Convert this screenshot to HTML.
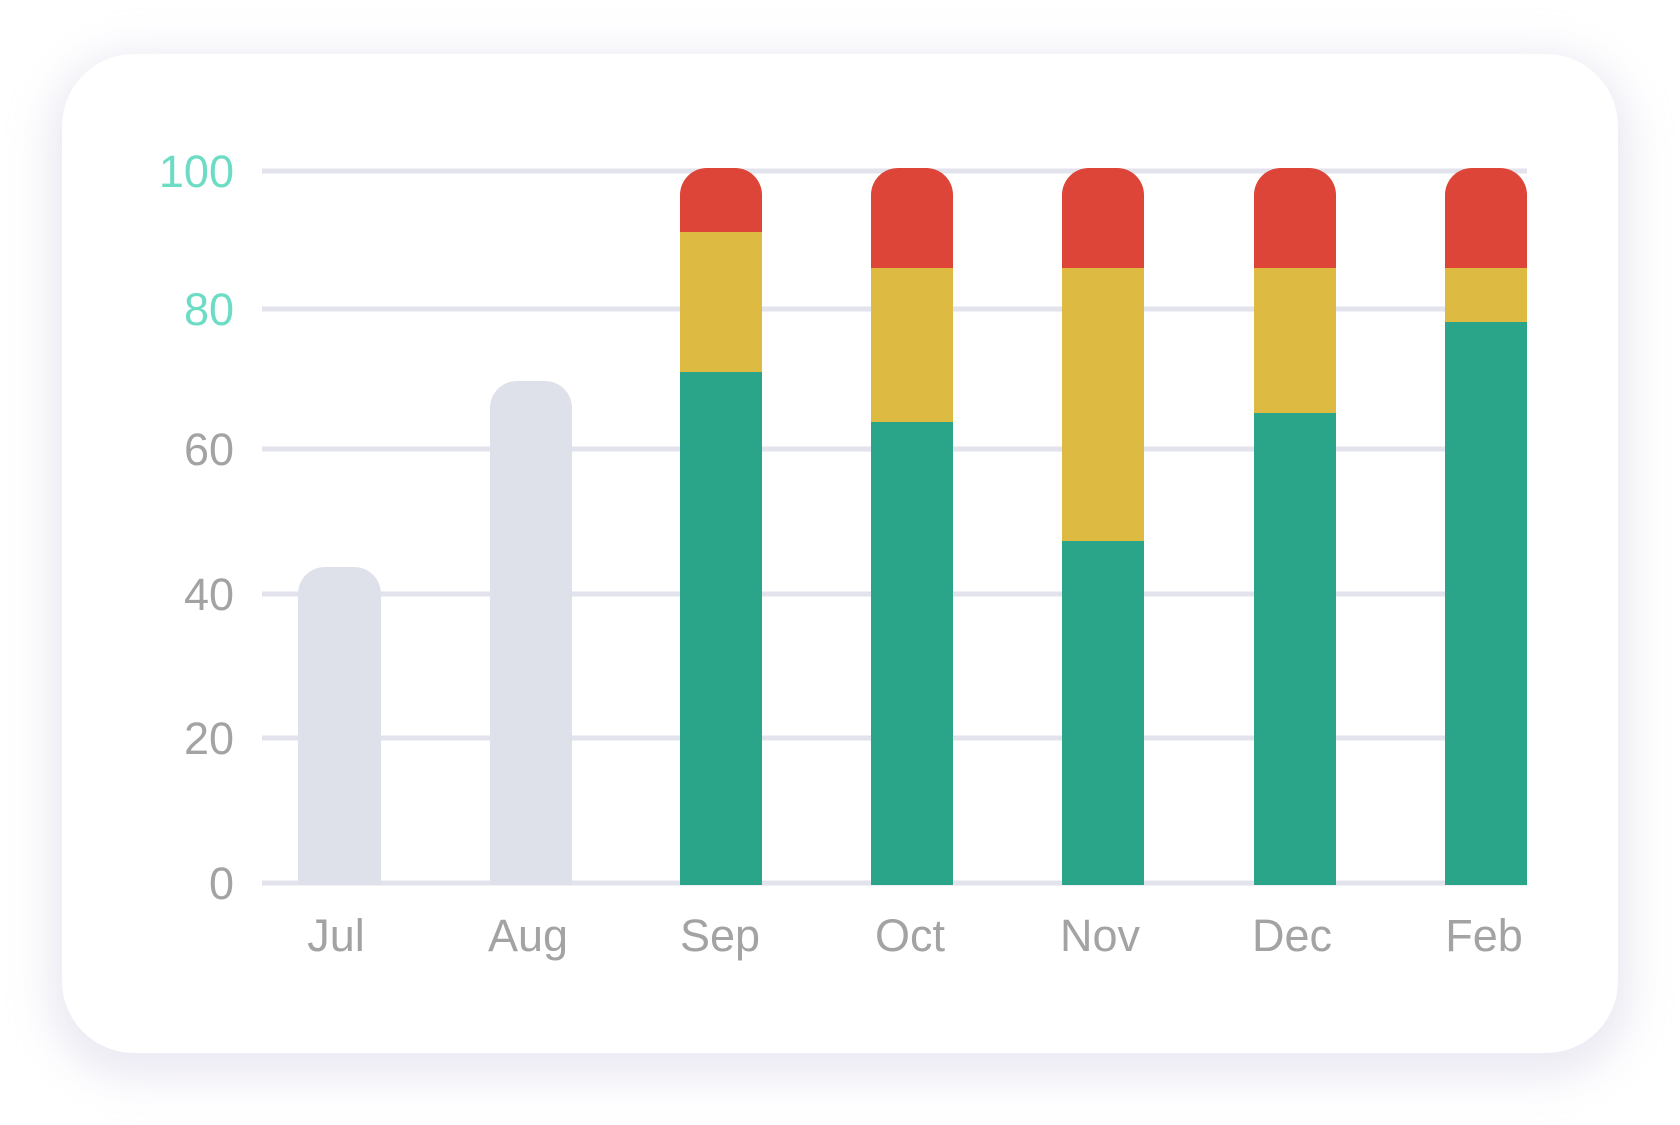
<!DOCTYPE html>
<html><head><style>
html,body{margin:0;padding:0;background:#fff;}
body{width:1680px;height:1125px;position:relative;overflow:hidden;font-family:"Liberation Sans",sans-serif;}
.card{position:absolute;left:62px;top:54px;width:1556px;height:999px;border-radius:72px;background:#fff;box-shadow:0 12px 40px 14px rgba(200,195,220,0.35);}
</style></head><body>
<div class="card"></div>
<svg width="1680" height="1125" style="position:absolute;left:0;top:0">
<g stroke="#e2e3ec" stroke-width="5">
<line x1="262" x2="1527" y1="171" y2="171"/>
<line x1="262" x2="1527" y1="309" y2="309"/>
<line x1="262" x2="1527" y1="449" y2="449"/>
<line x1="262" x2="1527" y1="594" y2="594"/>
<line x1="262" x2="1527" y1="738" y2="738"/>
<line x1="262" x2="1527" y1="883" y2="883"/>
</g>
<g font-size="45" text-anchor="end" fill="#a3a3a3">
<text x="234" y="187" fill="#6cdcc4">100</text>
<text x="234" y="325" fill="#6cdcc4">80</text>
<text x="234" y="465">60</text>
<text x="234" y="610">40</text>
<text x="234" y="754">20</text>
<text x="234" y="899">0</text>
</g>
<defs>
<clipPath id="r"><path d="M0,27 a27,27 0 0 1 27,-27 h28 a27,27 0 0 1 27,27 V2000 H0Z"/></clipPath>
</defs>
<path fill="#dfe1ea" d="M298,594 a27,27 0 0 1 27,-27 h29 a27,27 0 0 1 27,27 V885 H298Z"/>
<path fill="#dfe1ea" d="M490,408 a27,27 0 0 1 27,-27 h28 a27,27 0 0 1 27,27 V885 H490Z"/>
<g transform="translate(680,168)" clip-path="url(#r)"><rect width="83" height="64" fill="#dc4538"/><rect y="64" width="83" height="141" fill="#ddba42"/><rect y="204" width="83" height="513" fill="#2ba58a"/></g>
<g transform="translate(871,168)" clip-path="url(#r)"><rect width="83" height="100" fill="#dc4538"/><rect y="100" width="83" height="154" fill="#ddba42"/><rect y="254" width="83" height="463" fill="#2ba58a"/></g>
<g transform="translate(1062,168)" clip-path="url(#r)"><rect width="82" height="100" fill="#dc4538"/><rect y="100" width="82" height="273" fill="#ddba42"/><rect y="373" width="82" height="344" fill="#2ba58a"/></g>
<g transform="translate(1254,168)" clip-path="url(#r)"><rect width="82" height="100" fill="#dc4538"/><rect y="100" width="82" height="146" fill="#ddba42"/><rect y="245" width="82" height="472" fill="#2ba58a"/></g>
<g transform="translate(1445,168)" clip-path="url(#r)"><rect width="82" height="100" fill="#dc4538"/><rect y="100" width="82" height="55" fill="#ddba42"/><rect y="154" width="82" height="563" fill="#2ba58a"/></g>
<g font-size="45" text-anchor="middle" fill="#a3a3a3">
<text x="336" y="951">Jul</text>
<text x="528" y="951">Aug</text>
<text x="720" y="951">Sep</text>
<text x="910" y="951">Oct</text>
<text x="1100" y="951">Nov</text>
<text x="1292" y="951">Dec</text>
<text x="1484" y="951">Feb</text>
</g>
</svg>
</body></html>
